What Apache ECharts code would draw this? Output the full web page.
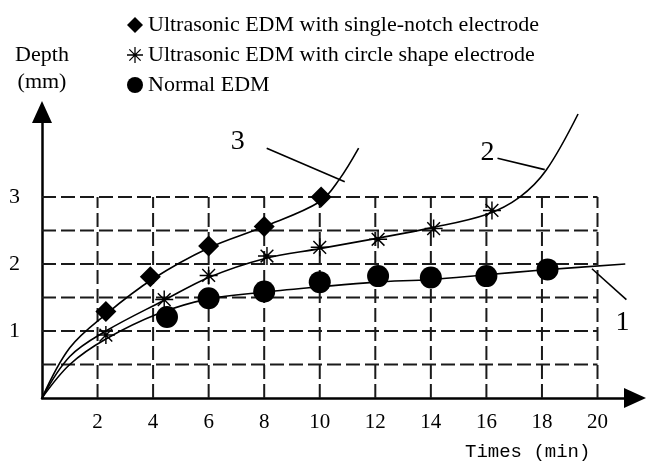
<!DOCTYPE html>
<html>
<head>
<meta charset="utf-8">
<script src="https://cdn.jsdelivr.net/npm/echarts@6/dist/echarts.min.js"></script>
<style>
html,body{margin:0;padding:0;background:#fff;}
#chart{width:646px;height:465px;}
</style>
</head>
<body>
<div id="chart"></div>
<script>
// ---- data ----
const xTickValues = [2, 4, 6, 8, 10, 12, 14, 16, 18, 20];
const yTickValues = [1, 2, 3];
const gridXs = [2, 4, 6, 8, 10, 12, 14, 16, 18, 20];
const gridYs = [0.5, 1, 1.5, 2, 2.5, 3];

const seriesNames = ['Ultrasonic EDM with single-notch electrode', 'Ultrasonic EDM with circle shape electrode', 'Normal EDM'];

// measured points
const singleNotchT = [2.3, 3.9, 6.0, 8.0, 10.05];
const singleNotchV = [1.29, 1.81, 2.27, 2.56, 3.0];
const circleShapeT = [2.3, 4.4, 6.0, 8.1, 10.0, 12.1, 14.1, 16.2];
const circleShapeV = [0.94, 1.47, 1.83, 2.12, 2.25, 2.37, 2.53, 2.8];
const normalT = [4.5, 6.0, 8.0, 10.0, 12.1, 14.0, 16.0, 18.2];
const normalV = [1.21, 1.49, 1.59, 1.73, 1.82, 1.8, 1.82, 1.92];

// fitted curves
const curve3T = [0, 1, 2.3, 4, 6, 8, 10, 10.7, 11.4];
const curve3V = [0, 0.75, 1.25, 1.78, 2.24, 2.56, 2.93, 3.26, 3.73];
const curve2T = [0, 1, 2.3, 4.4, 6, 8, 10, 12, 14, 16, 17.2, 18.15, 19.3];
const curve2V = [0, 0.62, 1.0, 1.46, 1.8, 2.08, 2.23, 2.38, 2.54, 2.74, 3.0, 3.4, 4.24];
const curve1T = [0, 1, 2.3, 4.2, 6, 8, 10, 12, 14, 16, 18, 21];
const curve1V = [0, 0.5, 0.88, 1.26, 1.48, 1.58, 1.66, 1.73, 1.77, 1.84, 1.91, 2.0];

// curve number labels and leader lines
const curveLabelText = ['3', '2', '1'];
const curveLabelT = [7.05, 16.04, 20.9];
const curveLabelV = [3.82, 3.66, 1.12];
const leaderT = [[8.09, 10.9], [16.4, 18.1], [19.8, 21.04]];
const leaderV = [[3.73, 3.23], [3.58, 3.41], [1.93, 1.47]];

// ---- build chart ----
const zip = (a, b) => a.map((v, i) => [v, b[i]]);
const SERIF = '"Liberation Serif", "Times New Roman", serif';
const asteriskPath = 'path://M0 9.2 L20 9.2 L20 10.8 L0 10.8 Z M9.2 0 L10.8 0 L10.8 20 L9.2 20 Z M3.5 2.36 L17.64 16.5 L16.5 17.64 L2.36 3.5 Z M17.64 3.5 L3.5 17.64 L2.36 16.5 L16.5 2.36 Z';

const series = [];
const dashStyle = { color: '#1a1a1a', width: 2, type: [14, 5] };
gridYs.forEach(v => series.push({
  type: 'line', data: [[0, v], [20, v]], symbol: 'none', silent: true,
  lineStyle: dashStyle, z: 1
}));
gridXs.forEach(t => series.push({
  type: 'line', data: [[t, 0], [t, 3]], symbol: 'none', silent: true,
  lineStyle: dashStyle, z: 1
}));
[[curve3T, curve3V], [curve2T, curve2V], [curve1T, curve1V]].forEach(c => series.push({
  type: 'line', data: zip(c[0], c[1]), symbol: 'none', smooth: 0.35,
  lineStyle: { color: '#000', width: 1.6 }, silent: true, z: 3
}));
leaderT.forEach((tt, i) => series.push({
  type: 'line', data: zip(tt, leaderV[i]), symbol: 'none', silent: true,
  lineStyle: { color: '#000', width: 1.6 }, z: 3
}));
const markStyle = { color: '#000', opacity: 1 };
series.push({
  name: seriesNames[0], type: 'scatter', data: zip(singleNotchT, singleNotchV),
  symbol: 'diamond', symbolSize: 21, itemStyle: markStyle, z: 5
});
series.push({
  name: seriesNames[1], type: 'scatter', data: zip(circleShapeT, circleShapeV),
  symbol: asteriskPath, symbolSize: 18, itemStyle: markStyle, z: 5
});
series.push({
  name: seriesNames[2], type: 'scatter', data: zip(normalT, normalV),
  symbol: 'circle', symbolSize: 22, itemStyle: markStyle, z: 5
});
series.push({
  type: 'scatter', symbolSize: 0, silent: true, itemStyle: markStyle,
  data: curveLabelText.map((s, i) => ({ name: s, value: [curveLabelT[i], curveLabelV[i]] })),
  label: { show: true, position: 'inside', formatter: '{b}', color: '#000', fontSize: 28, fontFamily: SERIF, textBorderWidth: 0 }
});

const option = {
  animation: false,
  backgroundColor: '#fff',
  grid: { left: 42, right: 11, top: 112, bottom: 67, containLabel: false },
  legend: {
    data: seriesNames, orient: 'vertical', left: 122, top: 9, itemGap: 8,
    itemWidth: 16, itemHeight: 16, selectedMode: false,
    itemStyle: { opacity: 1, color: '#000' },
    textStyle: { fontFamily: SERIF, fontSize: 22, color: '#000' }
  },
  xAxis: {
    type: 'value', min: 0, max: 21.35, interval: 2,
    axisLine: { show: true, lineStyle: { color: '#000', width: 2.5 }, symbol: ['none', 'triangle'], symbolSize: [20, 22] },
    axisTick: { show: false }, splitLine: { show: false },
    axisLabel: {
      formatter: v => xTickValues.indexOf(v) >= 0 ? String(v) : '',
      fontFamily: SERIF, fontSize: 21, color: '#000', margin: 14
    }
  },
  yAxis: {
    type: 'value', min: 0, max: 4.27, interval: 1,
    name: 'Depth\n(mm)', nameLocation: 'end', nameGap: 16,
    nameTextStyle: { fontFamily: SERIF, fontSize: 22, color: '#000', lineHeight: 27, align: 'center' },
    axisLine: { show: true, lineStyle: { color: '#000', width: 2.5 }, symbol: ['none', 'triangle'], symbolSize: [20, 22] },
    axisTick: { show: false }, splitLine: { show: false },
    axisLabel: {
      formatter: v => yTickValues.indexOf(v) >= 0 ? String(v) : '',
      fontFamily: SERIF, fontSize: 22, color: '#000', margin: 22
    }
  },
  graphic: [{
    type: 'text', left: 465, top: 442,
    style: { text: 'Times (min)', font: '19px "Liberation Mono", monospace', fill: '#000' }
  }],
  series: series
};

const chart = echarts.init(document.getElementById('chart'), null, { renderer: 'canvas' });
chart.setOption(option);
</script>
</body>
</html>
